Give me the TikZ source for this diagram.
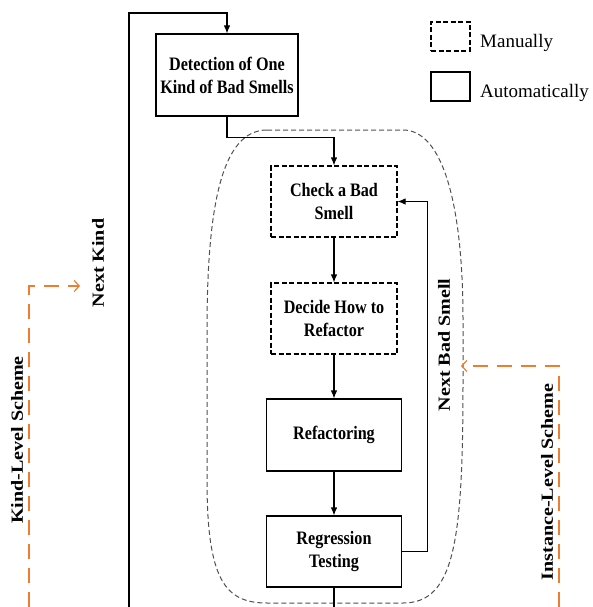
\documentclass[tikz,border=0pt]{standalone}
\usepackage{fontspec}
\setmainfont{Liberation Serif}
\newfontfamily\boxfont{Liberation Serif}[FakeStretch=0.85]
\newfontfamily\sidefont{Liberation Serif}[FakeStretch=1.18]
\usetikzlibrary{arrows.meta}

\definecolor{schemeorange}{RGB}{237,125,49}
\definecolor{groupgray}{RGB}{80,80,80}

\tikzset{
  procbox/.style={draw, line width=1.1pt, inner sep=0pt, align=center,
    font=\fontsize{19}{23}\selectfont\boxfont\bfseries},
  manualbox/.style={procbox, dash pattern=on 5pt off 2.5pt},
  flow/.style={line width=1.1pt, -{Latex[length=8pt,width=6.5pt]}},
  plain/.style={line width=1.1pt},
  scheme/.style={draw=schemeorange, line width=1.2pt, dash pattern=on 15pt off 9pt,
    -{Straight Barb[length=5pt,width=11pt]}},
  sidelabel/.style={rotate=90, inner sep=0pt,
    font=\fontsize{17}{20}\selectfont\sidefont\bfseries},
  legendtext/.style={anchor=base west, inner sep=0pt,
    font=\fontsize{19}{23}\selectfont}
}

\begin{document}
\begin{tikzpicture}[x=1pt, y=-1pt]
\useasboundingbox (0,0) rectangle (593,607);

% instance-level group outline
\draw[groupgray, line width=1pt, dash pattern=on 5pt off 3pt]
  (267,130) -- (403,130)
  .. controls (443,130) and (463,205) .. (463,320)
  -- (463,380)
  .. controls (463,540) and (455,603) .. (403,603)
  -- (267,603)
  .. controls (225,603) and (207,580) .. (207,480)
  -- (207,330)
  .. controls (207,205) and (222,130) .. (267,130) -- cycle;

% process steps
\node[procbox, minimum width=142pt, minimum height=82pt] (det) at (227,75)
  {Detection of One\\Kind of Bad Smells};
\node[manualbox, minimum width=126pt, minimum height=71pt] (chk) at (334,201.5)
  {Check a Bad\\Smell};
\node[manualbox, minimum width=126pt, minimum height=71pt] (dec) at (334,318.5)
  {Decide How to\\Refactor};
\node[procbox, minimum width=135pt, minimum height=72pt] (ref) at (334,435)
  {Refactoring};
\node[procbox, minimum width=135pt, minimum height=71pt] (reg) at (334,551.5)
  {Regression\\Testing};

% legend
\node[manualbox, minimum width=39pt, minimum height=29pt] (legm) at (450.5,36.5) {};
\node[procbox, minimum width=39pt, minimum height=29pt] (lega) at (450.5,86.5) {};
\node[legendtext] (legmt) at (480,48) {Manually};
\node[legendtext] (legat) at (480,98) {Automatically};

% outer (kind-level) loop
\coordinate (kbot) at (129,607);
\coordinate (ktop) at (129,13);
\draw[flow] (kbot) -- (ktop) -| (det.north);

% main flow
\draw[flow] (det.south) -- ([yshift=-21pt]det.south) -| (chk.north);
\draw[flow] (chk) -- (dec);
\draw[flow] (dec) -- (ref);
\draw[flow] (ref) -- (reg);
\coordinate (regout) at (334,607);
\draw[plain] (reg.south) -- (regout);

% inner (instance-level) loop
\draw[flow] (reg.east) -- ++(25,0) |- (chk.east);

% loop labels
\node[sidelabel] (nk) at (98,263) {Next Kind};
\node[sidelabel] (nbs) at (444,345) {Next Bad Smell};

% scheme markers
\coordinate (kschb) at (29,607);
\coordinate (kscht) at (29,286);
\coordinate (kschh) at (80,286);
\draw[scheme] (kschb) -- (kscht) -- (kschh);
\node[sidelabel] (ksl) at (17,440) {Kind-Level Scheme};

\coordinate (ischb) at (559,607);
\coordinate (ischt) at (559,366);
\coordinate (ischh) at (461,366);
\draw[scheme] (ischb) -- (ischt) -- (ischh);
\node[sidelabel] (isl) at (547,482) {Instance-Level Scheme};
\end{tikzpicture}
\end{document}
